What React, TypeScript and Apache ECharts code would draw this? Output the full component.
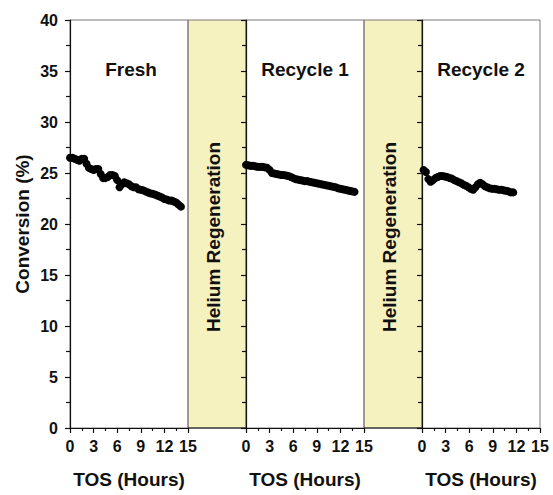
import React, { useEffect, useRef } from "react";
import * as echarts from "echarts";

// Time on stream (h) and conversion (%) for each run
const freshData: [number, number][] = [
  [0, 26.5], [0.3, 26.5], [0.6, 26.4], [0.9, 26.3], [1.2, 26.2], [1.5, 26.4],
  [1.8, 26.4], [2.1, 25.9], [2.4, 25.5], [2.7, 25.4], [3.0, 25.3], [3.3, 25.4],
  [3.6, 25.4], [3.9, 24.9], [4.2, 24.5], [4.5, 24.5], [4.8, 24.6], [5.1, 24.8],
  [5.4, 24.8], [5.7, 24.7], [6.0, 24.3], [6.3, 23.6], [6.6, 23.9], [6.9, 24.1],
  [7.2, 24.0], [7.5, 23.9], [7.8, 23.7], [8.1, 23.6], [8.4, 23.6], [8.7, 23.4],
  [9.0, 23.35], [9.3, 23.3], [9.6, 23.2], [9.9, 23.1], [10.2, 23.0], [10.5, 22.95],
  [10.8, 22.9], [11.1, 22.8], [11.4, 22.7], [11.7, 22.6], [12.0, 22.45], [12.3, 22.4],
  [12.6, 22.3], [12.9, 22.3], [13.2, 22.2], [13.5, 22.1], [13.8, 21.9], [14.1, 21.7],
];

const recycle1Data: [number, number][] = [
  [0, 25.8], [0.3, 25.75], [0.6, 25.7], [0.9, 25.7], [1.2, 25.65], [1.5, 25.6],
  [1.8, 25.6], [2.1, 25.6], [2.4, 25.55], [2.7, 25.5], [3.0, 25.3], [3.3, 25.0],
  [3.6, 24.95], [3.9, 24.9], [4.2, 24.85], [4.5, 24.8], [4.8, 24.8], [5.1, 24.75],
  [5.4, 24.7], [5.7, 24.6], [6.0, 24.5], [6.3, 24.4], [6.6, 24.35], [6.9, 24.3],
  [7.2, 24.25], [7.5, 24.2], [7.8, 24.2], [8.1, 24.15], [8.4, 24.1], [8.7, 24.05],
  [9.0, 24.0], [9.3, 23.95], [9.6, 23.9], [9.9, 23.85], [10.2, 23.8], [10.5, 23.75],
  [10.8, 23.7], [11.1, 23.65], [11.4, 23.6], [11.7, 23.5], [12.0, 23.45], [12.3, 23.4],
  [12.6, 23.35], [12.9, 23.3], [13.2, 23.25], [13.5, 23.2], [13.8, 23.15],
];

const recycle2Data: [number, number][] = [
  [0.2, 25.3], [0.5, 25.1], [0.8, 24.4], [1.1, 24.15], [1.4, 24.3], [1.7, 24.5],
  [2.0, 24.6], [2.3, 24.7], [2.6, 24.7], [2.9, 24.65], [3.2, 24.6], [3.5, 24.5],
  [3.8, 24.45], [4.1, 24.3], [4.4, 24.2], [4.7, 24.1], [5.0, 24.0], [5.3, 23.85],
  [5.6, 23.75], [5.9, 23.6], [6.2, 23.45], [6.5, 23.35], [6.8, 23.6], [7.1, 23.9],
  [7.4, 24.05], [7.7, 23.9], [8.0, 23.7], [8.3, 23.6], [8.6, 23.5], [8.9, 23.45],
  [9.2, 23.45], [9.5, 23.4], [9.8, 23.35], [10.1, 23.35], [10.4, 23.3], [10.7, 23.25],
  [11.0, 23.2], [11.3, 23.1], [11.6, 23.1],
];

const panelTitles = ["Fresh", "Recycle 1", "Recycle 2"];
const panelSeries = [freshData, recycle1Data, recycle2Data];
const gapLabel = "Helium Regeneration";
const xAxisTitle = "TOS (Hours)";
const yAxisTitle = "Conversion (%)";

const xMin = 0;
const xMax = 15;
const xStep = 3;
const yMin = 0;
const yMax = 40;
const yStep = 5;

// Layout (px)
const W = 553;
const H = 495;
const PLOT_LEFT = 70;
const PLOT_TOP = 20;
const PLOT_H = 408;
const PANEL_W = 118;
const GAP_W = 58;

const FONT = "Arial, 'Liberation Sans', sans-serif";
const FRAME = "#7a7a7a";
const BAND = "#f6f2bf";
const INK = "#111";

export default function App() {
  const ref = useRef<HTMLDivElement>(null);

  useEffect(() => {
    if (!ref.current) return;
    const chart = echarts.init(ref.current, undefined, { renderer: "svg" });

    const panelLeft = (i: number) => PLOT_LEFT + i * (PANEL_W + GAP_W);
    const idx = [0, 1, 2];

    const grids = idx.map((i) => ({
      left: panelLeft(i),
      top: PLOT_TOP,
      width: PANEL_W,
      height: PLOT_H,
      show: true,
      borderColor: FRAME,
      borderWidth: 1,
      backgroundColor: "transparent",
    }));

    const xAxes = idx.map((i) => ({
      type: "value",
      gridIndex: i,
      min: xMin,
      max: xMax,
      interval: xStep,
      name: xAxisTitle,
      nameLocation: "middle",
      nameGap: 42,
      nameTextStyle: { fontFamily: FONT, fontWeight: "bold", fontSize: 19, color: INK },
      axisLine: { show: true, lineStyle: { color: INK, width: 1.2 } },
      axisTick: { show: true, inside: false, length: 5, lineStyle: { color: INK, width: 1.2 } },
      minorTick: { show: true, splitNumber: 2, length: 3, lineStyle: { color: INK, width: 1.2 } },
      splitLine: { show: false },
      axisLabel: {
        show: true,
        margin: 10,
        fontFamily: FONT,
        fontWeight: "bold",
        fontSize: 16,
        color: INK,
        showMinLabel: true,
        showMaxLabel: true,
        hideOverlap: false,
      },
    }));

    const yAxes = idx.map((i) => ({
      type: "value",
      gridIndex: i,
      min: yMin,
      max: yMax,
      interval: yStep,
      axisLine: { show: true, onZero: false, lineStyle: { color: INK, width: 1.2 } },
      axisTick: { show: true, inside: false, length: 5, lineStyle: { color: INK, width: 1.2 } },
      minorTick: { show: true, splitNumber: 2, length: 4, lineStyle: { color: INK, width: 1.2 } },
      splitLine: { show: false },
      axisLabel: {
        show: i === 0,
        margin: 12,
        fontFamily: FONT,
        fontWeight: "bold",
        fontSize: 16,
        color: INK,
      },
    }));

    const series = idx.map((i) => ({
      type: "scatter",
      name: panelTitles[i],
      xAxisIndex: i,
      yAxisIndex: i,
      data: panelSeries[i],
      symbol: "circle",
      symbolSize: 8,
      itemStyle: { color: "#000", opacity: 1 },
      z: 5,
    }));

    const bands = [0, 1].map((i) => {
      const x0 = panelLeft(i) + PANEL_W;
      return [
        {
          type: "rect",
          z: -1,
          shape: { x: x0, y: PLOT_TOP, width: GAP_W, height: PLOT_H },
          style: { fill: BAND, stroke: FRAME, lineWidth: 1 },
        },
        {
          type: "line",
          z: 1,
          shape: { x1: x0, y1: PLOT_TOP + PLOT_H, x2: x0 + GAP_W, y2: PLOT_TOP + PLOT_H },
          style: { stroke: INK, lineWidth: 1.2 },
        },
        {
          type: "text",
          z: 2,
          x: x0 + GAP_W / 2 - 4,
          y: PLOT_TOP + 217,
          rotation: Math.PI / 2,
          style: {
            text: gapLabel,
            fontFamily: FONT,
            fontWeight: "bold",
            fontSize: 19,
            fill: INK,
            align: "center",
            verticalAlign: "middle",
          },
        },
      ];
    }).flat();

    const titles = idx.map((i) => ({
      type: "text",
      z: 2,
      x: panelLeft(i) + PANEL_W / 2 + (i === 0 ? 2 : 0),
      y: 69,
      style: {
        text: panelTitles[i],
        fontFamily: FONT,
        fontWeight: "bold",
        fontSize: 19,
        fill: INK,
        align: "center",
        verticalAlign: "middle",
      },
    }));

    const yTitle = {
      type: "text",
      z: 2,
      x: 22,
      y: PLOT_TOP + 204,
      rotation: Math.PI / 2,
      style: {
        text: yAxisTitle,
        fontFamily: FONT,
        fontWeight: "bold",
        fontSize: 19,
        fill: INK,
        align: "center",
        verticalAlign: "middle",
      },
    };

    chart.setOption({
      animation: false,
      backgroundColor: "#fff",
      grid: grids,
      xAxis: xAxes,
      yAxis: yAxes,
      series,
      graphic: [...bands, ...titles, yTitle],
    });

    return () => chart.dispose();
  }, []);

  return (
    <div
      ref={ref}
      style={{ position: "absolute", left: 0, top: 0, width: W, height: H }}
    />
  );
}
